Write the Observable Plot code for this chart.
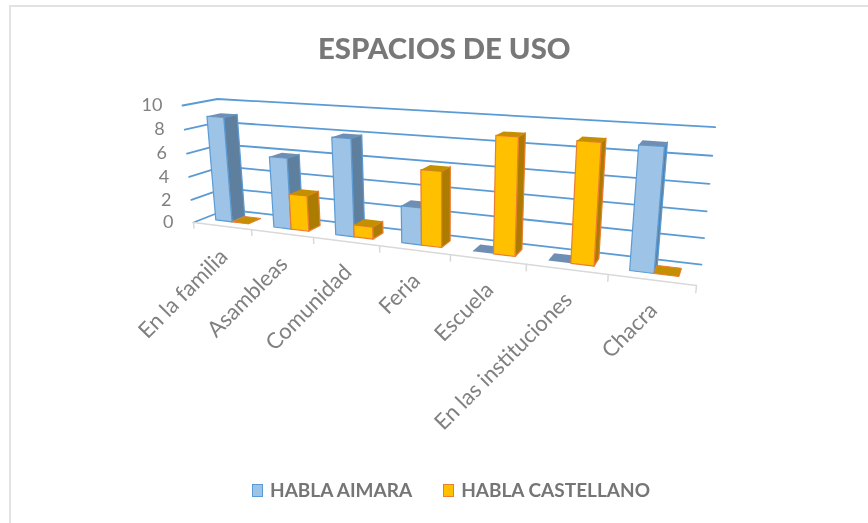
<!DOCTYPE html>
<html><head><meta charset="utf-8">
<script src="https://cdn.jsdelivr.net/npm/d3@7"></script>
<script src="https://cdn.jsdelivr.net/npm/@observablehq/plot@0.6"></script>
<style>
html,body{margin:0;background:#fff}
#wrap{position:relative;width:868px;height:523px;overflow:hidden;font-family:Lato,sans-serif;filter:blur(.45px)}
#frame{position:absolute;left:9px;top:5px;width:880px;height:600px;border-top:2px solid #e2e2e2;border-left:2px solid #e2e2e2;pointer-events:none}
#title{height:85px;box-sizing:border-box;padding-top:30px;padding-left:318px;font-size:29.3px;line-height:36px;font-weight:900;color:#787878;white-space:nowrap}
#legend{position:absolute;left:252px;top:477px;display:flex;align-items:center;font-size:19px;line-height:26px;font-weight:700;color:#757575;white-space:nowrap}
.sw{display:inline-block;width:9px;height:11px;margin-right:7px;border:1.5px solid}
</style></head><body>
<div id="wrap"><div id="frame"></div><div id="title">ESPACIOS DE USO</div><div id="chart"></div><div id="legend"></div></div>
<script>
const categories = ["En la familia","Asambleas","Comunidad","Feria","Escuela","En las instituciones","Chacra"];
const seriesNames = ["HABLA AIMARA","HABLA CASTELLANO"];
const hablaAimara = [9,6,8,3,0,0,9];
const hablaCastellano = [0,3,1,6,9,9,0];
const valueTicks = [0,2,4,6,8,10];
const palette = [
  {front:"#9dc3e6",side:"#5f7f9f",top:"#6e8fb3",stroke:"#5b9bd5"},
  {front:"#ffc000",side:"#ab7c00",top:"#c48f00",stroke:"#ed7d31"}
];

// Perspective view of the box (category, depth, value), all normalised to 0..1
const O=[193,222], A=[696,285], B=[226,209], C=[182,105];
const a=-0.217, b=0.0613, c=-0.0423;
const col=(P,k)=>[P[0]*(1+k)-O[0],P[1]*(1+k)-O[1]];
const U=col(A,a), D=col(B,b), V=col(C,c);
function proj(u,d,v){
  const w=1+a*u+b*d+c*v;
  return [(O[0]+U[0]*u+D[0]*d+V[0]*v)/w,(O[1]+U[1]*u+D[1]*d+V[1]*v)/w];
}
const n=categories.length;
const vmax=d3.max(valueTicks);
const uOf=i=>i/n, vOf=x=>x/vmax;
const P=(u,d,v)=>{const p=proj(u,d,v);return {x:p[0],y:p[1]};};

const marks=[];
// gridlines: left wall and back wall
for(const t of valueTicks){
  marks.push(Plot.line([P(0,0,vOf(t)),P(0,1,vOf(t)),P(1,1,vOf(t))],{x:"x",y:"y",stroke:"#5b9bd5",strokeWidth:1.8}));
}
// floor front edge and ticks
marks.push(Plot.line([P(0,0,0),P(1,0,0)],{x:"x",y:"y",stroke:"#d9d9d9",strokeWidth:1.5}));
for(let i=0;i<=n;i++){
  marks.push(Plot.line([P(uOf(i),0,0),P(uOf(i),0,-0.05)],{x:"x",y:"y",stroke:"#d9d9d9",strokeWidth:1.5}));
}
// bars, painted left to right
const barW=2/3.5, gap=0.75/3.5, d0=0.3, d1=0.7;
const seriesValues=[hablaAimara,hablaCastellano];
categories.forEach((cat,i)=>{
  seriesValues.forEach((vals,s)=>{
    const u0=uOf(i+gap+s*barW/2), u1=uOf(i+gap+(s+1)*barW/2), h=vOf(vals[i]), col=palette[s];
    const face=(pts,fill)=>marks.push(Plot.line([...pts],{x:"x",y:"y",fill,stroke:col.stroke,strokeWidth:1.2,curve:"linear-closed"}));
    if(h>0){
      face([P(u1,d0,0),P(u1,d1,0),P(u1,d1,h),P(u1,d0,h)],col.side);
      face([P(u0,d0,0),P(u1,d0,0),P(u1,d0,h),P(u0,d0,h)],col.front);
    }
    marks.push(Plot.line([P(u0,d0,h),P(u1,d0,h),P(u1,d1,h),P(u0,d1,h)],{x:"x",y:"y",fill:col.top,stroke:h>0?"none":col.stroke,strokeWidth:h>0?0:(s?1:0),curve:"linear-closed"}));
  });
});
// value labels
marks.push(Plot.text(valueTicks.map(t=>({t,...P(0,0,vOf(t))})),{x:"x",y:"y",text:d=>String(d.t),textAnchor:"end",dx:-20,fontSize:18,fill:"#808080",fontFamily:"Lato"}));
// category labels
marks.push(Plot.text(categories.map((cat,i)=>({cat,...P(uOf(i+.5),0,0)})),{x:"x",y:"y",text:"cat",textAnchor:"end",rotate:-45,dx:2,dy:27,fontSize:22,fill:"#808080",fontFamily:"Lato"}));

const svg=Plot.plot({width:868,height:375,margin:0,x:{domain:[0,868],range:[0,868],axis:null},y:{domain:[85,460],range:[0,375],axis:null},marks});
document.getElementById("chart").append(svg);

const lg=document.getElementById("legend");
seriesNames.forEach((name,s)=>{
  const sw=document.createElement("span");sw.className="sw";sw.style.background=palette[s].front;sw.style.borderColor=palette[s].stroke;
  const t=document.createElement("span");t.textContent=name;t.style.marginRight=s?"0":"31px";
  lg.append(sw,t);
});
</script></body></html>
